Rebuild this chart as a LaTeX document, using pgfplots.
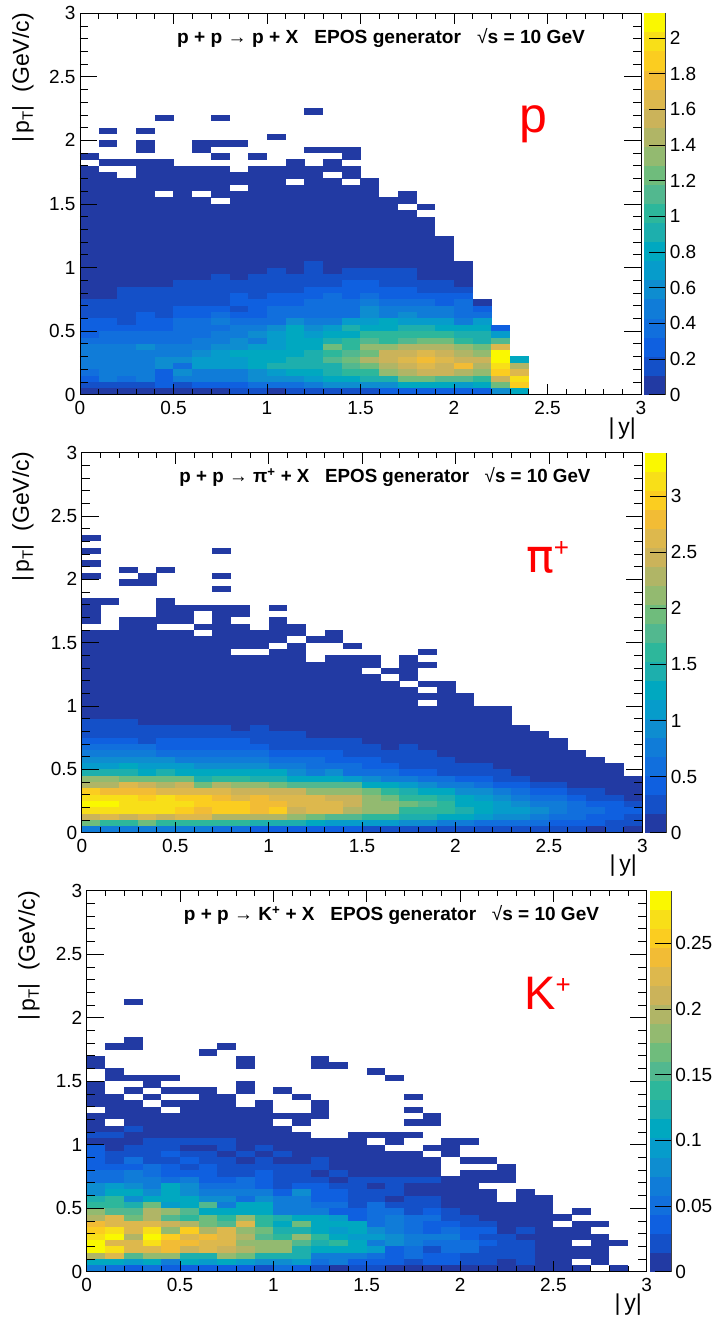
\documentclass[border=0pt]{standalone}
\usepackage{fontspec}
\setmainfont{Liberation Sans}
\newfontfamily\djv{DejaVu Sans}
\usepackage{pgfplots}
\usepackage{pgfplotstable}
\pgfplotsset{compat=1.18}
\pgfdeclareplotmark{cell}{\pgfpathrectangle{\pgfpoint{-9.45pt}{-3.27pt}}{\pgfpoint{18.9pt}{6.54pt}}\pgfusepathqfill}
\pgfdeclareplotmark{bandcell}{\pgfpathrectangle{\pgfpoint{-10.9pt}{-9.65pt}}{\pgfpoint{21.8pt}{19.3pt}}\pgfusepathqfill}
\pgfplotsset{
 colormap={bird20}{rgb255=(34,58,163) rgb255=(20,80,200) rgb255=(15,96,224) rgb255=(17,111,221) rgb255=(16,124,216)
  rgb255=(14,141,208) rgb255=(6,156,203) rgb255=(0,168,192) rgb255=(29,175,173) rgb255=(45,183,155)
  rgb255=(82,184,143) rgb255=(111,188,124) rgb255=(147,186,112) rgb255=(176,181,102) rgb255=(203,179,90)
  rgb255=(221,184,77) rgb255=(242,188,53) rgb255=(251,205,32) rgb255=(248,223,24) rgb255=(250,248,0)},
 panel/.style={scale only axis,anchor=south west,xmin=0,xmax=3,ymin=0,ymax=3,axis on top,
  point meta min=0,point meta max=19,
  xtick={0,0.5,1,1.5,2,2.5,3},ytick={0,0.5,1,1.5,2,2.5,3},
  xticklabels={0,0.5,1,1.5,2,2.5,3},yticklabels={0,0.5,1,1.5,2,2.5,3},
  minor x tick num=4,minor y tick num=4,tick align=inside,
  xtick pos=both,ytick pos=both,
  xtick style={/pgfplots/major tick length=11pt,/pgfplots/minor tick length=5.5pt,black,line width=.7pt},
  ytick style={/pgfplots/major tick length=16.8pt,/pgfplots/minor tick length=8.4pt,black,line width=.7pt},
  axis line style={black,line width=.7pt},
  tick label style={font=\fontsize{19}{19}\selectfont},
  xticklabel style={yshift=-3pt},yticklabel style={xshift=-1pt}},
 cbar/.style={scale only axis,anchor=south west,xmin=0,xmax=1,ymin=0,axis on top,
  point meta min=0,point meta max=19,width=21.8pt,
  axis x line=none,axis y line*=right,xtick=\empty,tick align=inside,
  major tick length=16.5pt,minor y tick num=0,
  ytick style={black,line width=.7pt},axis line style={black!75,line width=.9pt,-},
  tick label style={font=\fontsize{19}{19}\selectfont},yticklabel style={xshift=0.5pt}}
}
\newcommand\cells[2]{\pgfplotsinvokeforeach{0,...,#2}{\addplot[scatter,only marks,mark=cell,scatter src=explicit,
  scatter/use mapped color={fill=mapped color,draw=none}] table[x expr=##1*0.1+0.05,y expr=\coordindex*0.05+0.025+(\thisrowno{##1}-\thisrowno{##1}),meta index=##1]{#1};}}
\newcommand\bands[1]{\addplot[scatter,only marks,mark=bandcell,scatter src=explicit,
  scatter/use mapped color={fill=mapped color,draw=none}] table[x=pos,y expr=(\thisrow{level}+0.5)*#1/20,meta=level]{\levels};}
\newcommand\ptlabel[2]{\node[rotate=90,anchor=east,inner sep=0pt] at (#1pt,#2pt) {\fontsize{23}{23}\selectfont |\,p\raisebox{-4pt}{\fontsize{15}{15}\selectfont T}|\ \ (GeV/c)};}
\newcommand\ylab[2]{\node[anchor=base east,inner sep=0pt] at (#1pt,#2pt) {\fontsize{23}{23}\selectfont |\,y|};}
\pgfplotstableread{
pos level
0.5 0
0.5 1
0.5 2
0.5 3
0.5 4
0.5 5
0.5 6
0.5 7
0.5 8
0.5 9
0.5 10
0.5 11
0.5 12
0.5 13
0.5 14
0.5 15
0.5 16
0.5 17
0.5 18
0.5 19
}\levels
\pgfplotstableread[header=false]{
0 0 0 0 0 0 0 0 1 1 0 1 1 1 1 1 2 2 2 2 2 2 5 7
1 1 1 1 2 1 2 2 2 3 3 3 4 5 5 5 5 7 7 7 6 7 11 17
2 4 3 4 2 4 4 4 4 5 5 5 6 7 7 8 8 11 11 10 10 9 14 18
3 4 4 4 2 5 4 4 4 5 6 7 7 8 9 9 12 13 14 14 13 12 17 15
4 4 4 4 5 3 6 6 6 7 8 8 8 8 10 11 13 14 15 14 16 13 18 13
4 4 4 4 5 5 6 6 6 7 7 8 8 10 11 13 14 15 16 15 14 14 19 7
4 4 4 4 4 4 5 6 7 7 7 7 8 9 10 11 14 14 15 14 13 12 19 nan
4 4 4 5 4 4 4 5 5 6 6 7 7 11 9 12 12 13 13 13 12 11 15 nan
3 3 3 3 3 3 4 4 5 4 6 7 7 8 9 10 9 10 11 11 9 8 10 nan
2 3 3 3 3 3 3 4 4 5 6 7 6 7 7 9 9 9 9 9 8 8 6 nan
2 2 2 2 2 3 3 3 4 4 5 7 5 6 8 7 7 8 8 7 7 7 2 nan
2 2 1 2 2 3 3 4 3 3 3 5 4 4 6 6 7 6 6 6 4 6 nan nan
1 1 1 2 1 2 2 3 2 2 3 3 3 3 3 5 4 5 4 4 3 3 nan nan
1 1 1 1 1 2 2 2 1 2 3 3 3 3 3 5 4 4 4 4 3 2 nan nan
1 1 1 1 1 1 1 1 2 2 2 2 3 3 3 4 3 3 3 2 3 0 nan nan
0 0 1 1 1 1 1 1 2 1 2 2 2 3 2 3 2 2 2 2 2 nan nan nan
0 0 1 1 1 1 1 1 1 1 1 1 2 2 2 2 2 2 1 1 1 nan nan nan
0 0 0 0 0 1 1 1 1 1 1 1 1 1 2 2 1 1 1 1 0 nan nan nan
0 0 0 0 0 0 0 1 0 1 1 1 1 1 1 1 1 1 0 0 0 nan nan nan
0 0 0 0 0 0 0 0 0 0 1 0 1 0 1 1 1 1 0 0 0 nan nan nan
0 0 0 0 0 0 0 0 0 0 0 0 1 0 0 0 0 0 0 0 0 nan nan nan
0 0 0 0 0 0 0 0 0 0 0 0 0 0 0 0 0 0 0 0 nan nan nan nan
0 0 0 0 0 0 0 0 0 0 0 0 0 0 0 0 0 0 0 0 nan nan nan nan
0 0 0 0 0 0 0 0 0 0 0 0 0 0 0 0 0 0 0 0 nan nan nan nan
0 0 0 0 0 0 0 0 0 0 0 0 0 0 0 0 0 0 0 0 nan nan nan nan
0 0 0 0 0 0 0 0 0 0 0 0 0 0 0 0 0 0 0 nan nan nan nan nan
0 0 0 0 0 0 0 0 0 0 0 0 0 0 0 0 0 0 0 nan nan nan nan nan
0 0 0 0 0 0 0 0 0 0 0 0 0 0 0 0 0 0 0 nan nan nan nan nan
0 0 0 0 0 0 0 0 0 0 0 0 0 0 0 0 0 0 nan nan nan nan nan nan
0 0 0 0 0 0 0 0 0 0 0 0 0 0 0 0 0 nan 0 nan nan nan nan nan
0 0 0 0 0 0 0 nan 0 0 0 0 0 0 0 0 0 0 nan nan nan nan nan nan
0 0 0 0 nan 0 nan 0 0 0 0 0 0 0 0 0 nan 0 nan nan nan nan nan nan
0 0 0 0 0 0 0 0 nan 0 0 0 0 0 0 0 nan nan nan nan nan nan nan nan
0 0 0 0 0 0 0 0 0 0 0 nan 0 0 nan 0 nan nan nan nan nan nan nan nan
0 0 nan 0 0 0 0 0 0 0 0 0 0 nan 0 nan nan nan nan nan nan nan nan nan
0 nan nan 0 0 0 0 0 nan 0 0 0 0 0 0 nan nan nan nan nan nan nan nan nan
nan 0 0 0 0 nan nan nan nan nan nan 0 nan 0 nan nan nan nan nan nan nan nan nan nan
0 nan nan nan nan nan nan 0 nan 0 nan nan nan nan 0 nan nan nan nan nan nan nan nan nan
nan nan nan 0 nan nan 0 nan nan nan nan nan 0 0 0 nan nan nan nan nan nan nan nan nan
nan 0 nan 0 nan nan 0 0 0 nan nan nan nan nan nan nan nan nan nan nan nan nan nan nan
nan nan nan nan nan nan nan nan nan nan 0 nan nan nan nan nan nan nan nan nan nan nan nan nan
nan 0 nan 0 nan nan nan nan nan nan nan nan nan nan nan nan nan nan nan nan nan nan nan nan
nan nan nan nan nan nan nan nan nan nan nan nan nan nan nan nan nan nan nan nan nan nan nan nan
nan nan nan nan 0 nan nan 0 nan nan nan nan nan nan nan nan nan nan nan nan nan nan nan nan
nan nan nan nan nan nan nan nan nan nan nan nan 0 nan nan nan nan nan nan nan nan nan nan nan
}\protonT
\pgfplotstableread[header=false]{
4 4 4 4 4 4 4 3 3 2 2 2 2 2 2 1 1 1 1 1 1 1 1 1 1 1 1 0 1 0
11 9 9 11 9 9 9 9 9 8 8 8 7 6 6 6 6 5 5 4 4 3 3 3 3 2 2 2 1 1
14 15 14 15 14 15 15 13 13 13 13 12 11 10 10 9 9 8 8 7 7 6 5 5 4 3 3 2 2 1
18 18 18 18 18 17 16 17 17 16 17 14 15 15 13 12 12 9 9 9 8 7 6 6 5 4 3 3 2 2
19 19 18 18 18 18 17 17 17 16 16 15 15 15 14 12 12 11 10 9 7 7 6 5 4 4 3 2 2 1
18 18 18 17 18 17 17 16 15 16 15 15 15 14 14 12 11 9 9 8 7 6 5 4 3 3 2 1 1 0
17 16 16 16 15 15 15 15 14 14 14 14 12 12 12 11 9 8 7 7 5 5 4 3 2 2 1 1 0 0
13 13 15 14 13 14 11 13 12 12 11 10 10 10 10 7 7 6 5 4 4 3 2 2 1 1 0 0 0 0
12 12 11 11 11 11 8 9 9 8 8 7 7 7 6 5 4 4 3 3 2 2 1 1 0 0 0 0 0 0
8 8 8 7 8 7 7 7 7 7 7 5 4 5 3 3 3 2 2 1 1 1 1 0 0 0 0 0 0 nan
6 6 7 6 6 6 5 5 5 5 4 4 3 3 3 2 2 1 1 1 1 1 0 0 0 0 0 0 0 nan
5 5 5 5 5 4 4 4 4 4 3 3 3 2 2 2 1 1 1 1 0 0 0 0 0 0 0 0 nan nan
4 4 4 4 3 3 3 3 3 3 2 2 2 2 1 1 1 1 1 0 0 0 0 0 0 0 0 nan nan nan
3 3 3 3 2 2 2 2 2 2 1 1 1 1 1 1 0 1 0 0 0 0 0 0 0 0 nan nan nan nan
2 2 2 1 2 2 2 2 2 1 1 1 1 1 1 0 0 0 0 0 0 0 0 0 0 0 nan nan nan nan
1 1 1 1 1 1 1 1 1 1 1 1 0 0 0 0 0 0 0 0 0 0 0 0 0 nan nan nan nan nan
1 1 1 1 1 1 1 1 0 1 0 0 0 0 0 0 0 0 0 0 0 0 0 0 nan nan nan nan nan nan
1 1 1 0 0 0 0 0 0 0 0 0 0 0 0 0 0 0 0 0 0 0 0 nan nan nan nan nan nan nan
0 0 0 0 0 0 0 0 0 0 0 0 0 0 0 0 0 0 0 0 0 0 0 nan nan nan nan nan nan nan
0 0 0 0 0 0 0 0 0 0 0 0 0 0 0 0 0 0 0 0 0 0 0 nan nan nan nan nan nan nan
0 0 0 0 0 0 0 0 0 0 0 0 0 0 0 0 0 0 nan 0 0 nan nan nan nan nan nan nan nan nan
0 0 0 0 0 0 0 0 0 0 0 0 0 0 0 0 0 0 0 0 0 nan nan nan nan nan nan nan nan nan
0 0 0 0 0 0 0 0 0 0 0 0 0 0 0 0 0 0 nan 0 nan nan nan nan nan nan nan nan nan nan
0 0 0 0 0 0 0 0 0 0 0 0 0 0 0 0 0 nan 0 0 nan nan nan nan nan nan nan nan nan nan
0 0 0 0 0 0 0 0 0 0 0 0 0 0 0 0 nan 0 nan nan nan nan nan nan nan nan nan nan nan nan
0 0 0 0 0 0 0 0 0 0 0 0 0 0 0 nan 0 0 nan nan nan nan nan nan nan nan nan nan nan nan
0 0 0 0 0 0 0 0 0 0 0 0 0 0 0 0 nan 0 0 nan nan nan nan nan nan nan nan nan nan nan
0 0 0 0 0 0 0 0 0 0 0 0 nan 0 0 0 nan 0 nan nan nan nan nan nan nan nan nan nan nan nan
0 0 0 0 0 0 0 0 nan nan 0 0 nan nan nan nan nan nan 0 nan nan nan nan nan nan nan nan nan nan nan
0 0 0 0 0 0 0 0 0 0 nan 0 nan nan 0 nan nan nan nan nan nan nan nan nan nan nan nan nan nan nan
0 0 0 0 0 0 0 0 0 0 0 nan 0 0 nan nan nan nan nan nan nan nan nan nan nan nan nan nan nan nan
0 0 0 0 0 0 nan 0 0 0 0 0 nan 0 nan nan nan nan nan nan nan nan nan nan nan nan nan nan nan nan
nan nan 0 0 nan nan 0 0 0 nan 0 0 nan nan nan nan nan nan nan nan nan nan nan nan nan nan nan nan nan nan
0 nan 0 0 0 0 nan 0 nan nan 0 nan nan nan nan nan nan nan nan nan nan nan nan nan nan nan nan nan nan nan
0 nan nan nan 0 0 nan 0 0 nan nan nan nan nan nan nan nan nan nan nan nan nan nan nan nan nan nan nan nan nan
0 nan nan nan 0 0 0 0 0 nan 0 nan nan nan nan nan nan nan nan nan nan nan nan nan nan nan nan nan nan nan
0 0 nan nan 0 nan nan nan nan nan nan nan nan nan nan nan nan nan nan nan nan nan nan nan nan nan nan nan nan nan
nan nan nan nan nan nan nan nan nan nan nan nan nan nan nan nan nan nan nan nan nan nan nan nan nan nan nan nan nan nan
nan nan nan nan nan nan nan 0 nan nan nan nan nan nan nan nan nan nan nan nan nan nan nan nan nan nan nan nan nan nan
nan nan 0 0 nan nan nan nan nan nan nan nan nan nan nan nan nan nan nan nan nan nan nan nan nan nan nan nan nan nan
0 nan nan 0 nan nan nan 0 nan nan nan nan nan nan nan nan nan nan nan nan nan nan nan nan nan nan nan nan nan nan
nan nan 0 nan 0 nan nan nan nan nan nan nan nan nan nan nan nan nan nan nan nan nan nan nan nan nan nan nan nan nan
0 nan nan nan nan nan nan nan nan nan nan nan nan nan nan nan nan nan nan nan nan nan nan nan nan nan nan nan nan nan
nan nan nan nan nan nan nan nan nan nan nan nan nan nan nan nan nan nan nan nan nan nan nan nan nan nan nan nan nan nan
0 nan nan nan nan nan nan 0 nan nan nan nan nan nan nan nan nan nan nan nan nan nan nan nan nan nan nan nan nan nan
nan nan nan nan nan nan nan nan nan nan nan nan nan nan nan nan nan nan nan nan nan nan nan nan nan nan nan nan nan nan
0 nan nan nan nan nan nan nan nan nan nan nan nan nan nan nan nan nan nan nan nan nan nan nan nan nan nan nan nan nan
}\pionT
\pgfplotstableread[header=false]{
4 3 2 3 2 2 2 2 2 1  3 2 1 0 1 1 0 0 0 0  0 0 0 0 0 0 0 nan 0
7 7 6 7 4 7 6 7 6 5  5 6 3 4 2 2 2 1 2 2  1 1 0 1 0 0 nan 0 nan
13 15 10 12 12 8 8 12 11 8  8 8 4 4 4 3 2 3 2 2  1 1 1 1 0 0 0 0 nan
19 18 15 15 16 14 15 14 13 12  12 8 7 7 7 6 2 3 1 3  3 1 1 1 0 0 0 0 nan
19 15 15 18 16 16 15 15 12 12  12 10 8 9 7 4 5 4 3 3  3 2 1 1 0 0 nan 0 0
18 19 13 19 17 15 16 15 13 10  9 12 9 7 6 6 5 4 4 4  2 1 1 0 0 0 0 0 nan
17 18 15 18 12 17 13 15 12 11  8 8 7 6 7 5 4 3 2 3  2 2 0 1 0 0 0 nan nan
16 15 15 15 14 13 11 10 15 9  7 11 7 7 7 3 4 3 2 2  1 1 0 0 0 nan 0 0 nan
13 15 11 13 10 9 11 9 12 9  8 7 7 6 2 3 4 3 3 1  1 0 0 0 0 0 nan nan nan
12 10 10 13 12 10 7 7 7 7  4 4 4 2 2 3 3 1 2 1  0 0 0 0 0 nan 0 nan nan
9 9 8 11 6 7 10 4 7 7  4 4 3 3 1 3 1 1 1 0  0 0 0 0 0 nan nan nan nan
8 9 5 7 7 7 5 5 3 5  4 4 2 2 1 1 0 1 1 0  0 0 nan 0 0 nan nan nan nan
5 7 7 5 7 5 4 4 4 4  2 5 2 2 1 1 1 0 0 0  0 0 nan 0 nan nan nan nan nan
5 6 5 4 7 5 3 3 3 2  1 2 2 1 1 0 1 0 0 0  0 nan nan nan nan nan nan nan nan
3 3 4 4 3 4 2 2 3 2  1 1 1 0 1 1 1 1 1 0  0 0 0 nan nan nan nan nan nan
3 3 4 3 2 2 2 1 1 2  1 1 0 1 0 0 0 0 0 nan  0 0 0 nan nan nan nan nan nan
2 2 2 3 2 1 2 1 1 1  1 1 1 0 0 0 0 0 0 nan  nan nan 0 nan nan nan nan nan nan
2 1 3 1 1 2 1 1 0 1  0 0 1 0 0 0 0 0 0 nan  0 0 nan nan nan nan nan nan nan
2 1 1 1 2 1 1 0 1 0  1 0 0 0 0 0 0 0 nan 0  nan nan nan nan nan nan nan nan nan
2 0 1 1 1 0 0 1 0 1  0 0 0 0 0 0 nan nan 0 0  nan nan nan nan nan nan nan nan nan
0 0 0 1 1 1 1 1 0 0  0 0 0 0 0 nan 0 nan nan 0  0 nan nan nan nan nan nan nan nan
1 1 0 0 0 0 0 0 0 0  0 0 nan nan 0 0 0 0 nan nan  nan nan nan nan nan nan nan nan nan
0 0 1 0 0 0 0 0 0 0  0 nan nan nan nan nan nan nan nan nan  nan nan nan nan nan nan nan nan nan
0 nan 0 0 0 0 0 0 0 0  nan 0 nan nan nan nan nan 0 0 nan  nan nan nan nan nan nan nan nan nan
0 0 0 0 0 0 0 0 0 0  0 0 0 nan nan nan nan nan 0 nan  nan nan nan nan nan nan nan nan nan
nan 0 0 0 nan 0 0 0 0 0  nan nan 0 nan nan nan nan 0 nan nan  nan nan nan nan nan nan nan nan nan
0 0 0 nan 0 0 0 0 nan 0  nan nan 0 nan nan nan nan nan nan nan  nan nan nan nan nan nan nan nan nan
0 0 nan 0 nan nan 0 0 nan nan  nan 0 nan nan nan nan nan 0 nan nan  nan nan nan nan nan nan nan nan nan
0 nan 0 nan 0 0 0 nan 0 nan  0 nan nan nan nan nan nan nan nan nan  nan nan nan nan nan nan nan nan nan
0 nan nan 0 nan nan nan nan 0 nan  nan nan nan nan nan nan nan nan nan nan  nan nan nan nan nan nan nan nan nan
nan 0 0 0 0 nan nan nan nan nan  nan nan nan nan nan nan 0 nan nan nan  nan nan nan nan nan nan nan nan nan
nan 0 nan nan nan nan nan nan nan nan  nan nan nan nan nan 0 nan nan nan nan  nan nan nan nan nan nan nan nan nan
0 nan nan nan nan nan nan nan 0 nan  nan nan 0 0 nan nan nan nan nan nan  nan nan nan nan nan nan nan nan nan
0 nan nan nan nan nan nan nan 0 nan  nan nan 0 nan nan nan nan nan nan nan  nan nan nan nan nan nan nan nan nan
nan nan nan nan nan nan 0 nan nan nan  nan nan nan nan nan nan nan nan nan nan  nan nan nan nan nan nan nan nan nan
nan 0 0 nan nan nan nan 0 nan nan  nan nan nan nan nan nan nan nan nan nan  nan nan nan nan nan nan nan nan nan
nan nan 0 nan nan nan nan nan nan nan  nan nan nan nan nan nan nan nan nan nan  nan nan nan nan nan nan nan nan nan
nan nan nan nan nan nan nan nan nan nan  nan nan nan nan nan nan nan nan nan nan  nan nan nan nan nan nan nan nan nan
nan nan nan nan nan nan nan nan nan nan  nan nan nan nan nan nan nan nan nan nan  nan nan nan nan nan nan nan nan nan
nan nan nan nan nan nan nan nan nan nan  nan nan nan nan nan nan nan nan nan nan  nan nan nan nan nan nan nan nan nan
nan nan nan nan nan nan nan nan nan nan  nan nan nan nan nan nan nan nan nan nan  nan nan nan nan nan nan nan nan nan
nan nan nan nan nan nan nan nan nan nan  nan nan nan nan nan nan nan nan nan nan  nan nan nan nan nan nan nan nan nan
nan nan 0 nan nan nan nan nan nan nan  nan nan nan nan nan nan nan nan nan nan  nan nan nan nan nan nan nan nan nan
}\kaonT
\begin{document}
\begin{tikzpicture}[x=1pt,y=1pt]
\useasboundingbox (0,0) rectangle (713,1318);
% panel 1
\begin{axis}[panel,at={(80pt,923.3pt)},width=561pt,height=381.5pt]
\cells{\protonT}{23}
\end{axis}
\begin{axis}[panel,at={(80pt,923.3pt)},width=561pt,height=381.5pt,xticklabels={},yticklabels={}]
\end{axis}
\begin{axis}[cbar,at={(644pt,923.3pt)},height=381.5pt,ymax=2.14,
 ytick={0,0.2,0.4,0.6,0.8,1,1.2,1.4,1.6,1.8,2},yticklabels={0,0.2,0.4,0.6,0.8,1,1.2,1.4,1.6,1.8,2}]
\bands{2.14}
\end{axis}
\begin{axis}[cbar,at={(644pt,923.3pt)},height=381.5pt,ymax=2.14,
 ytick={0,0.2,0.4,0.6,0.8,1,1.2,1.4,1.6,1.8,2},yticklabels={}]
\end{axis}
% panel 2
\begin{axis}[panel,at={(81.8pt,485.3pt)},width=560.5pt,height=380pt]
\cells{\pionT}{29}
\end{axis}
\begin{axis}[panel,at={(81.8pt,485.3pt)},width=560.5pt,height=380pt,xticklabels={},yticklabels={}]
\end{axis}
\begin{axis}[cbar,at={(645pt,485.3pt)},height=380pt,ymax=3.386,
 ytick={0,0.5,1,1.5,2,2.5,3},yticklabels={0,0.5,1,1.5,2,2.5,3}]
\bands{3.386}
\end{axis}
\begin{axis}[cbar,at={(645pt,485.3pt)},height=380pt,ymax=3.386,
 ytick={0,0.5,1,1.5,2,2.5,3},yticklabels={}]
\end{axis}
% panel 3
\begin{axis}[panel,at={(86.7pt,46.3pt)},width=560pt,height=381pt]
\cells{\kaonT}{28}
\end{axis}
\begin{axis}[panel,at={(86.7pt,46.3pt)},width=560pt,height=381pt,xticklabels={},yticklabels={}]
\end{axis}
\begin{axis}[cbar,at={(649.5pt,46.3pt)},height=381pt,ymax=0.29,
 ytick={0,0.05,0.1,0.15,0.2,0.25},yticklabels={0,0.05,0.1,0.15,0.2,0.25}]
\bands{0.29}
\end{axis}
\begin{axis}[cbar,at={(649.5pt,46.3pt)},height=381pt,ymax=0.29,
 ytick={0,0.05,0.1,0.15,0.2,0.25},yticklabels={}]
\end{axis}
% titles
\node[inner sep=0pt] at (381,1280) {\resizebox{408pt}{\height}{\fontsize{19}{19}\selectfont\bfseries p + p {\mdseries→} p + X\ \ \ EPOS generator\ \ \ {\mdseries√}s = 10 GeV}};
\node[inner sep=0pt] at (385,841) {\resizebox{411pt}{\height}{\fontsize{19}{19}\selectfont\bfseries p + p {\mdseries→} π\textsuperscript{+} + X\ \ \ EPOS generator\ \ \ {\mdseries√}s = 10 GeV}};
\node[inner sep=0pt] at (391.5,403) {\resizebox{415pt}{\height}{\fontsize{19}{19}\selectfont\bfseries p + p {\mdseries→} K\textsuperscript{+} + X\ \ \ EPOS generator\ \ \ {\mdseries√}s = 10 GeV}};
% axis labels
\ptlabel{23}{1305}
\ptlabel{23}{866}
\ptlabel{29}{427}
\ylab{636}{883}
\ylab{637}{446}
\ylab{642}{7}
% particle names
\node[anchor=base west,inner sep=0pt,text=red] at (519,1185.5) {\fontsize{50}{50}\selectfont p};
\node[anchor=base west,inner sep=0pt,text=red] at (526,745) {\fontsize{46}{46}\selectfont\djv π\raisebox{16.5pt}{\fontsize{26}{26}\selectfont\rmfamily +}};
\node[anchor=base west,inner sep=0pt,text=red] at (524,308) {\fontsize{47}{47}\selectfont K\raisebox{16pt}{\fontsize{26}{26}\selectfont +}};
\end{tikzpicture}
\end{document}
